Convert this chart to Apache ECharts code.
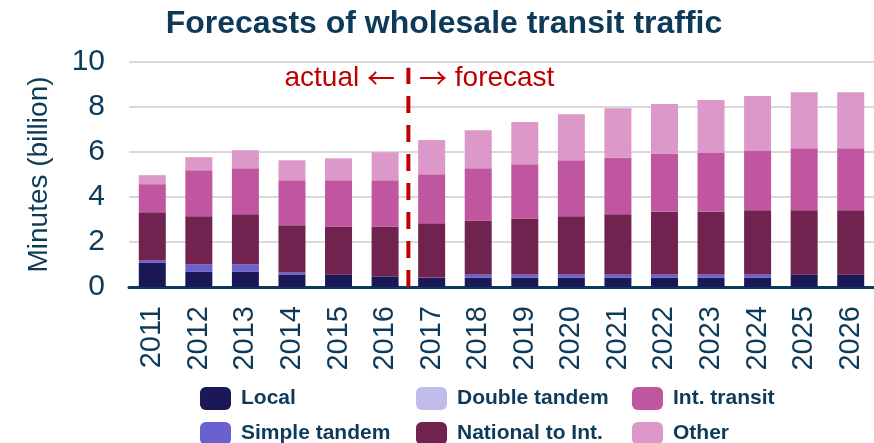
<!DOCTYPE html>
<html><head><meta charset="utf-8">
<script src="https://cdn.jsdelivr.net/npm/echarts@6/dist/echarts.min.js"></script>
<style>html,body{margin:0;padding:0;background:#fff}#c{width:874px;height:443px}</style>
</head><body><div id="c"></div>
<script>
const years = ['2011','2012','2013','2014','2015','2016','2017','2018','2019','2020','2021','2022','2023','2024','2025','2026'];
const local = [1.09,0.69,0.69,0.56,0.56,0.47,0.42,0.42,0.42,0.42,0.42,0.42,0.42,0.42,0.56,0.56];
const simpleTandem = [0.09,0.31,0.31,0.09,0,0,0,0.14,0.14,0.14,0.14,0.14,0.14,0.14,0,0];
const doubleTandem = [0,0,0,0,0,0,0,0,0,0,0,0,0,0,0,0];
const nationalToInt = [2.14,2.14,2.23,2.09,2.13,2.22,2.41,2.40,2.49,2.58,2.67,2.79,2.79,2.85,2.85,2.85];
const intTransit = [1.25,2.05,2.05,2.00,2.05,2.05,2.18,2.32,2.41,2.49,2.52,2.58,2.61,2.64,2.76,2.76];
const other = [0.40,0.58,0.80,0.89,0.98,1.25,1.52,1.69,1.87,2.05,2.20,2.20,2.35,2.44,2.49,2.49];
const yTicks = [0,2,4,6,8,10];
const dividerX = 6; // boundary between 2016 and 2017 (on a 0..16 scale)
const dividerLine = [[dividerX,0],[dividerX,9.75]];

const dark = '#0e3a5a';
const font = 'Liberation Sans, Arial, sans-serif';
const colors = {Local:'#1b1858','Simple tandem':'#6a61d1','Double tandem':'#c0bcec','National to Int.':'#70234f','Int. transit':'#c055a0','Other':'#dc98c9'};
function bar(name, data){
  return {name, type:'bar', stack:'t', data, barWidth:27, itemStyle:{color:colors[name]}, xAxisIndex:0, yAxisIndex:0};
}
const legendCommon = {orient:'vertical', top:387, height:120, padding:0, itemWidth:31, itemHeight:23, itemGap:12,
  textStyle:{fontFamily:font, fontSize:21, fontWeight:'bold', color:dark, padding:[0,0,0,5]}};
const red = '#c00000';
const arrowFont = 'Noto Sans CJK SC';
const chart = echarts.init(document.getElementById('c'));
chart.setOption({
  animation:false,
  title:{text:'Forecasts of wholesale transit traffic', left:439, textAlign:'center', top:3,
    textStyle:{fontFamily:font, fontSize:32, fontWeight:'bold', color:dark}},
  grid:{left:129, right:0, top:62, bottom:156},
  legend:[
    Object.assign({left:200, data:['Local','Simple tandem']}, legendCommon),
    Object.assign({left:416, data:['Double tandem','National to Int.']}, legendCommon),
    Object.assign({left:632, data:['Int. transit','Other']}, legendCommon)
  ],
  xAxis:[
    {type:'category', data:years, axisTick:{show:false},
     axisLine:{lineStyle:{color:dark, width:3}},
     axisLabel:{rotate:90, fontFamily:font, fontSize:29, color:dark, margin:19}},
    {type:'value', min:0, max:16, show:false}
  ],
  yAxis:{type:'value', min:0, max:10, interval:2,
    name:'Minutes (billion)', nameLocation:'middle', nameGap:76, nameRotate:90,
    nameTextStyle:{fontFamily:font, fontSize:28, color:dark},
    axisLine:{show:false}, axisTick:{show:false},
    axisLabel:{fontFamily:font, fontSize:30, color:dark, margin:24,
      formatter:v=> yTicks.includes(v) ? String(v) : ''},
    splitLine:{lineStyle:{color:'#d9d9d9', width:2}}},
  series:[
    bar('Local', local),
    bar('Simple tandem', simpleTandem),
    bar('Double tandem', doubleTandem),
    bar('National to Int.', nationalToInt),
    bar('Int. transit', intTransit),
    bar('Other', other),
    {type:'line', xAxisIndex:1, yAxisIndex:0, data:dividerLine, symbol:'none', silent:true,
     lineStyle:{color:red, width:4, type:[17,12]}, z:5}
  ],
  graphic:[
    {type:'text', x:395, y:78, style:{text:'{t|actual }{a|\u2190}', textAlign:'right', textVerticalAlign:'middle',
      rich:{t:{fontFamily:font, fontSize:28, fill:red}, a:{fontFamily:arrowFont, fontSize:28, fill:red}}}},
    {type:'text', x:419, y:78, style:{text:'{a|\u2192}{t| forecast}', textAlign:'left', textVerticalAlign:'middle',
      rich:{t:{fontFamily:font, fontSize:28, fill:red}, a:{fontFamily:arrowFont, fontSize:28, fill:red}}}}
  ]
});
</script></body></html>
